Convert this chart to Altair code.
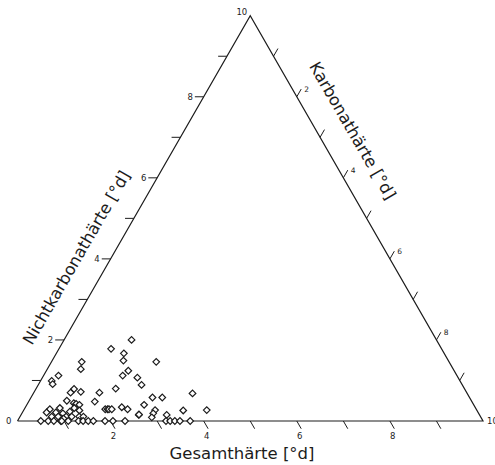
import altair as alt
import pandas as pd

# Gesamthärte (total hardness) and Nichtkarbonathärte (non-carbonate hardness), °d
gesamt = [
    3.45, 2.90, 3.12, 3.02, 3.71, 2.11, 2.00, 3.00, 2.82, 1.44,
    1.23, 1.21, 3.11, 3.11, 2.51, 2.11, 1.61, 1.72, 1.49, 4.10,
    3.19, 3.40, 1.31, 1.90, 1.43, 1.45, 1.47, 1.53, 2.92, 2.41,
    2.51, 2.03, 2.08, 2.11, 2.17, 3.09, 3.69, 4.20, 3.28, 2.68,
    2.69, 3.01, 2.93,
    0.84, 1.07, 0.73, 0.93, 1.07, 1.24, 1.38, 1.46,
    0.79, 0.93, 1.10, 1.22, 1.38, 1.47, 1.00, 1.02,
    0.50, 0.66, 0.78, 0.93, 0.95, 1.09, 1.31, 1.41, 1.52, 1.63,
    1.88, 2.05, 2.31, 3.19, 3.28, 3.38, 3.49, 3.71,
]
nichtkarb = [
    2.00, 1.78, 1.67, 1.49, 1.46, 1.46, 1.28, 1.24, 1.12, 1.12,
    0.99, 0.91, 1.07, 0.89, 0.80, 0.70, 0.79, 0.72, 0.70, 0.68,
    0.58, 0.58, 0.50, 0.48, 0.44, 0.40, 0.42, 0.40, 0.40, 0.34,
    0.29, 0.29, 0.29, 0.29, 0.29, 0.27, 0.26, 0.27, 0.15, 0.15,
    0.16, 0.19, 0.09,
    0.29, 0.32, 0.21, 0.21, 0.19, 0.23, 0.32, 0.26,
    0.11, 0.11, 0.11, 0.11, 0.11, 0.11, 0.05, 0.06,
    0.00, 0.00, 0.00, 0.00, 0.00, 0.00, 0.00, 0.00, 0.00, 0.00,
    0.00, 0.00, 0.00, 0.00, 0.00, 0.00, 0.00, 0.00,
]

tick_values = [1, 2, 3, 4, 5, 6, 7, 8, 9]
label_values = [2, 4, 6, 8]

# ---- layout -------------------------------------------------------------
W, H = 495, 465
S3 = 0.8660254            # sin(60°)
X_DOM = [-0.376, 10.258]  # oblique x of the triangle, 0..10 on the base
Y_DOM = [-0.940, 8.996]
TL = 0.19                 # tick length in axis units
INK = "#1c1c1c"
FONT = "DejaVu Sans"
TITLE_FONT = "DejaVu Sans"

xs = alt.Scale(domain=X_DOM, nice=False, zero=False)
ys = alt.Scale(domain=Y_DOM, nice=False, zero=False)
X = lambda f: alt.X(f, type="quantitative", scale=xs, axis=None)
Y = lambda f: alt.Y(f, type="quantitative", scale=ys, axis=None)

# triangle outline in (G, N) coordinates
frame_df = pd.DataFrame({"G": [0, 10, 10, 0], "N": [0, 0, 10, 0], "o": [0, 1, 2, 3]})
frame = (
    alt.Chart(frame_df)
    .transform_calculate(px="datum.G - datum.N / 2", py=f"datum.N * {S3}")
    .mark_line(color=INK, strokeWidth=1.2)
    .encode(x=X("px"), y=Y("py"), order="o:O")
)

# tick marks: base along G, left side along N, right side along Karbonathärte
tick_rows, lab_rows = [], []
for k in tick_values:
    b = (k, 0.0)
    tick_rows.append(dict(x=b[0], y=b[1], x2=b[0] + 0.5 * TL, y2=b[1] - S3 * TL))
    l = (k / 2, k * S3)
    tick_rows.append(dict(x=l[0], y=l[1], x2=l[0] - TL, y2=l[1]))
    r = (5 + k / 2, S3 * (10 - k))
    tick_rows.append(dict(x=r[0], y=r[1], x2=r[0] + 0.5 * TL, y2=r[1] + S3 * TL))
    if k in label_values:
        lab_rows.append(dict(side="b", t=str(k), x=b[0] + 0.5 * TL, y=b[1] - S3 * TL))
        lab_rows.append(dict(side="l", t=str(k), x=l[0] - TL, y=l[1]))
        lab_rows.append(dict(side="r", t=str(k), x=r[0] + 0.5 * TL, y=r[1] + S3 * TL))
ticks_df = pd.DataFrame(tick_rows)
labs_df = pd.DataFrame(lab_rows)

ticks = alt.Chart(ticks_df).mark_rule(color=INK, strokeWidth=1.0).encode(
    x=X("x"), y=Y("y"), x2="x2", y2="y2"
)

base_lab = alt.Chart(labs_df)
lab_b = base_lab.transform_filter("datum.side == 'b'").mark_text(
    font=FONT, fontSize=8.5, color=INK, align="center", baseline="top", dx=-1.5, dy=3
).encode(x=X("x"), y=Y("y"), text="t:N")
lab_l = base_lab.transform_filter("datum.side == 'l'").mark_text(
    font=FONT, fontSize=8.5, color=INK, align="right", baseline="middle", dx=-2
).encode(x=X("x"), y=Y("y"), text="t:N")
lab_r = base_lab.transform_filter("datum.side == 'r'").mark_text(
    font=FONT, fontSize=7.5, color=INK, align="left", baseline="middle", dx=3, dy=1
).encode(x=X("x"), y=Y("y"), text="t:N")

corner_df = pd.DataFrame({
    "t": ["0", "10", "10"],
    "x": [0.0, 5.0, 10.0],
    "y": [0.0, 10 * S3, 0.0],
    "a": ["right", "right", "left"],
})
corners = []
for i, (dx, dy) in enumerate([(-6, 0), (-3, -4), (4, 0)]):
    corners.append(
        alt.Chart(corner_df.iloc[[i]])
        .mark_text(font=FONT, fontSize=8.5, color=INK, align=corner_df["a"][i],
                   baseline="middle", dx=dx, dy=dy)
        .encode(x=X("x"), y=Y("y"), text="t:N")
    )

# sample points
pts = pd.DataFrame({"G": gesamt, "N": nichtkarb})
points = (
    alt.Chart(pts)
    .transform_calculate(px="datum.G - datum.N / 2", py=f"datum.N * {S3}")
    .mark_point(shape="diamond", size=44, fill="white", fillOpacity=1,
                stroke=INK, strokeWidth=1.2, opacity=1)
    .encode(x=X("px"), y=Y("py"))
)

# axis titles
one = pd.DataFrame({"k": [0]})
def title(text, x, y, angle):
    return alt.Chart(one).mark_text(
        text=text, font=TITLE_FONT, fontSize=16.5, color=INK, angle=angle,
        align="center", baseline="middle"
    ).encode(x=alt.value(x), y=alt.value(y))

titles = [
    title("Nichtkarbonathärte [°d]", 77, 258, 300),
    title("Karbonathärte [°d]", 352, 131, 60),
    title("Gesamthärte [°d]", 242, 454, 0),
]

chart = (
    alt.layer(frame, ticks, lab_b, lab_l, lab_r, *corners, points, *titles)
    .properties(width=W, height=H, padding=0, background="white",
                autosize=alt.AutoSizeParams(type="none"))
    .configure_view(stroke=None)
)

chart.save("out.html", embed_options={"renderer": "svg", "actions": False})
